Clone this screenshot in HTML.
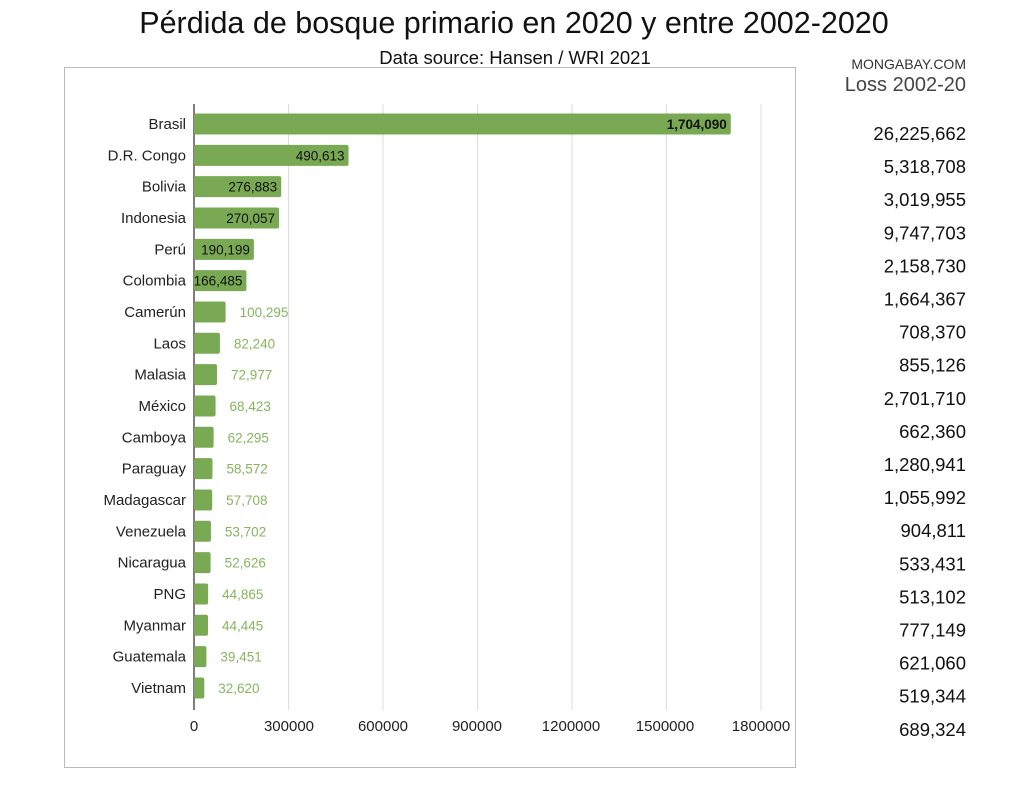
<!DOCTYPE html>
<html><head><meta charset="utf-8"><style>
body{margin:0;background:#fff;}
svg{display:block;font-family:"Liberation Sans",sans-serif;}
</style></head><body>
<svg width="1024" height="807" viewBox="0 0 1024 807">
<text x="514" y="33" text-anchor="middle" font-size="30.5" fill="#111">Pérdida de bosque primario en 2020 y entre 2002-2020</text>
<text x="515" y="64" text-anchor="middle" font-size="18.5" fill="#111">Data source: Hansen / WRI 2021</text>
<rect x="64.5" y="67.5" width="731" height="700" fill="none" stroke="#bbb"/>
<text x="966" y="69" text-anchor="end" font-size="14" fill="#333">MONGABAY.COM</text>
<text x="966" y="91" text-anchor="end" font-size="20" fill="#444">Loss 2002-20</text>
<g stroke="#ddd" stroke-width="1">
<line x1="288.5" y1="104" x2="288.5" y2="710"/><line x1="383" y1="104" x2="383" y2="710"/>
<line x1="477.5" y1="104" x2="477.5" y2="710"/><line x1="572" y1="104" x2="572" y2="710"/>
<line x1="666.5" y1="104" x2="666.5" y2="710"/><line x1="761" y1="104" x2="761" y2="710"/>
</g>
<line x1="194" y1="104" x2="194" y2="710" stroke="#555" stroke-width="1.5"/>
<g font-size="15" fill="#222" text-anchor="middle">
<text x="194" y="731">0</text><text x="289" y="731">300000</text><text x="383" y="731">600000</text>
<text x="477" y="731">900000</text><text x="571" y="731">1200000</text><text x="665" y="731">1500000</text><text x="761" y="731">1800000</text>
</g>
<g id="rows" font-size="15"></g>
</svg>
<script>
const d=[["Brasil",1704090,"26,225,662"],["D.R. Congo",490613,"5,318,708"],["Bolivia",276883,"3,019,955"],["Indonesia",270057,"9,747,703"],["Perú",190199,"2,158,730"],["Colombia",166485,"1,664,367"],["Camerún",100295,"708,370"],["Laos",82240,"855,126"],["Malasia",72977,"2,701,710"],["México",68423,"662,360"],["Camboya",62295,"1,280,941"],["Paraguay",58572,"1,055,992"],["Madagascar",57708,"904,811"],["Venezuela",53702,"533,431"],["Nicaragua",52626,"513,102"],["PNG",44865,"777,149"],["Myanmar",44445,"621,060"],["Guatemala",39451,"519,344"],["Vietnam",32620,"689,324"]];
let s="";const k=94.5/300000;
d.forEach((r,i)=>{const y=124+i*31.33;const w=r[1]*k;const f=r[1].toLocaleString("en-US");
s+=`<text x="186" y="${y+5}" text-anchor="end" fill="#222">${r[0]}</text>`;
s+=`<rect x="194" y="${y-10.5}" width="${w}" height="21" rx="2" fill="#79aa53"/>`;
if(i<6)s+=`<text x="${194+w-4}" y="${y+5}" text-anchor="end" fill="#111" font-size="13.5"${i==0?' font-weight="bold"':''}>${f}</text>`;
else s+=`<text x="${194+w+14}" y="${y+5}" fill="#86b55e" font-size="13.5">${f}</text>`;
s+=`<text x="966" y="${140+i*33.1}" text-anchor="end" fill="#111" font-size="18.5">${r[2]}</text>`;});
document.getElementById("rows").innerHTML=s;
</script>
</body></html>
